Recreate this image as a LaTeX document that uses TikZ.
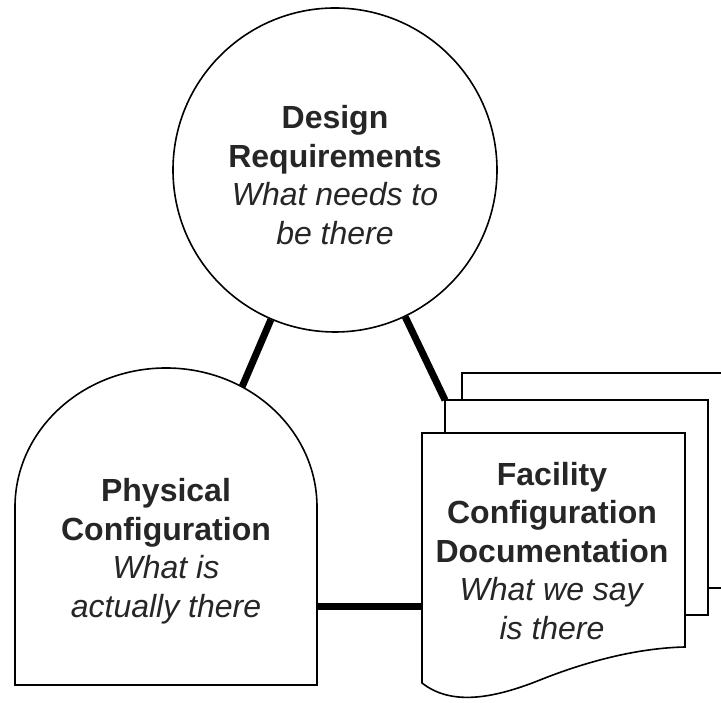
\documentclass[tikz,border=0pt]{standalone}
\usepackage{fontspec}
\setmainfont{Liberation Sans}

\begin{document}
\begin{tikzpicture}[x=1pt,y=1pt,
    txt/.style={align=center,text=black!85,font=\fontsize{32}{38.5}\selectfont},
    outline/.style={draw=black,line width=1.6pt,fill=white},
    link/.style={line width=7pt}]
    \useasboundingbox (0,0) rectangle (721,703);
    \node[outline,circle,minimum size=324pt,inner sep=0pt] (dr) at (335,533) {};
    \coordinate (pcN) at (242,316);
    \coordinate (pcE) at (317,96);
    \coordinate (fcdW) at (422,96);
    \coordinate (docNW) at (445,303);
    \draw[link] (dr) -- (pcN);
    \draw[link] (dr) -- (docNW);
    \draw[link] (pcE) -- (fcdW);
    \draw[outline] (15,18) -- (15,196) arc[start angle=180,end angle=0,x radius=151pt,y radius=139pt] -- (317,18) -- cycle;
    \draw[outline,fill=none] (462,303) -- (462,330) -- (721,330);
    \draw[outline] (708,115) -- (721,115);
    \draw[outline] (445,88) rectangle (708,303);
    \draw[outline] (422,20) -- (422,270) -- (685,270) -- (685,56)
        .. controls (640,55) and (590,43) .. (540,23)
        .. controls (490,3) and (450,-2) .. (422,20) -- cycle;
    \node[txt] (drt) at (335,528)
        {\textbf{Design}\\\textbf{Requirements}\\\textit{What needs to}\\\textit{be there}};
    \node[txt] (pc) at (166,152)
        {\textbf{Physical}\\\textbf{Configuration}\\\textit{What is}\\\textit{actually there}};
    \node[txt] (fcd) at (552,152)
        {\textbf{Facility}\\\textbf{Configuration}\\\textbf{Documentation}\\\textit{What we say}\\\textit{is there}};
\end{tikzpicture}
\end{document}
